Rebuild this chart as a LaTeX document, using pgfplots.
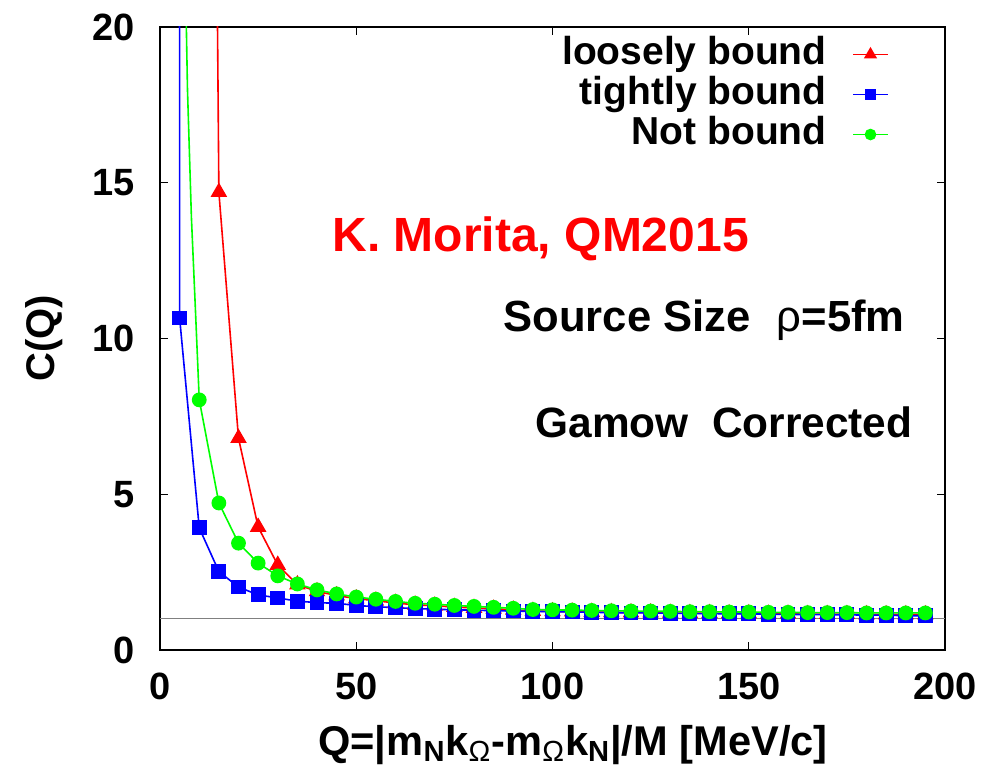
\documentclass[border=0pt]{standalone}
\usepackage{pgfplots}
\usepackage{pgfplotstable}
\pgfplotsset{compat=1.18}
\usepackage{fontspec}
\setmainfont{Liberation Sans}

\pgfplotstableread{
x y
15 14.7
20 6.8
25 3.95
30 2.73
35 2.10
40 1.88
45 1.75
50 1.65
55 1.58
60 1.51
65 1.45
70 1.42
75 1.38
80 1.35
85 1.32
90 1.29
95 1.25
100 1.24
105 1.23
110 1.22
115 1.21
120 1.20
125 1.20
130 1.19
135 1.18
140 1.18
145 1.17
150 1.17
155 1.16
160 1.16
165 1.15
170 1.15
175 1.15
180 1.14
185 1.14
190 1.14
195 1.14
}\loosely

\pgfplotstableread{
x y
5 10.66
10 3.92
15 2.52
20 2.02
25 1.77
30 1.67
35 1.57
40 1.52
45 1.50
50 1.43
55 1.39
60 1.36
65 1.33
70 1.31
75 1.29
80 1.28
85 1.26
90 1.25
95 1.24
100 1.23
105 1.22
110 1.21
115 1.20
120 1.19
125 1.19
130 1.18
135 1.17
140 1.17
145 1.16
150 1.16
155 1.15
160 1.14
165 1.14
170 1.13
175 1.13
180 1.12
185 1.12
190 1.10
195 1.10
}\tightly

\pgfplotstableread{
x y
10 8.03
15 4.72
20 3.43
25 2.79
30 2.38
35 2.12
40 1.93
45 1.80
50 1.70
55 1.63
60 1.56
65 1.50
70 1.47
75 1.43
80 1.40
85 1.37
90 1.34
95 1.30
100 1.29
105 1.28
110 1.27
115 1.26
120 1.25
125 1.25
130 1.24
135 1.23
140 1.23
145 1.22
150 1.22
155 1.21
160 1.21
165 1.20
170 1.20
175 1.20
180 1.19
185 1.19
190 1.19
195 1.19
}\notbound

\begin{document}
\begin{tikzpicture}
\useasboundingbox (-80pt,-58pt) rectangle (417pt,325pt);
\begin{axis}[
  at={(0,0)}, anchor=south west,
  scale only axis, width=392.5pt, height=311.5pt,
  xmin=0, xmax=200, ymin=0, ymax=20,
  xtick={0,50,...,200}, ytick={0,5,...,20},
  tick align=inside, major tick length=4pt,
  every tick/.style={black, line width=0.7pt},
  axis line style={black, line width=1pt},
  /pgf/number format/assume math mode=true,
  ticklabel style={font=\bfseries\fontsize{19}{19}\selectfont},
  xticklabel style={yshift=-8pt},
  yticklabel style={xshift=-9pt},
  xlabel={Q=|m\textsubscript{N}k\textsubscript{\mdseries Ω}-m\textsubscript{\mdseries Ω}k\textsubscript{N}|/M [MeV/c]},
  xlabel style={at={(axis description cs:0.526,-0.1525)}, anchor=center, font=\bfseries\fontsize{20.8}{21}\selectfont},
  ylabel={C(Q)},
  ylabel style={at={(axis description cs:-0.148,0.5)}, anchor=center, font=\bfseries\fontsize{20}{20}\selectfont},
  legend plot pos=right,
  legend style={at={(axis description cs:0.936,0.995)}, anchor=north east, draw=none, fill=none,
    font=\bfseries\fontsize{19.5}{20}\selectfont,
    nodes={inner sep=1pt, text height=14pt, text depth=4pt},
    cells={anchor=east},
    /tikz/every odd column/.append style={column sep=12pt}},
]
\addlegendimage{red, line width=0.8pt, mark=triangle*, mark size=3pt}
\addlegendentry{loosely bound}
\addlegendimage{blue, line width=0.8pt, mark=square*, mark size=2.5pt}
\addlegendentry{tightly bound}
\addlegendimage{green, line width=0.8pt, mark=*, mark size=2.5pt}
\addlegendentry{Not bound}

\addplot[gray, line width=0.6pt, forget plot] coordinates {(0,1) (200,1)};

\addplot[red, line width=0.8pt, forget plot] coordinates {(14,30) (15,14.7)};
\addplot[red, line width=0.8pt, mark=triangle*, mark size=4pt, forget plot] table {\loosely};

\addplot[blue, line width=0.8pt, forget plot] coordinates {(4.9,60) (5,10.66)};
\addplot[blue, line width=0.8pt, mark=square*, mark size=3.3pt, forget plot] table {\tightly};

\addplot[green, line width=0.8pt, forget plot] coordinates {(6,25) (7,18) (8,13.9) (9,11.0) (10,8.03)};
\addplot[green, line width=0.8pt, mark=*, mark size=3.3pt, forget plot] table {\notbound};

\node[text=red, font=\bfseries\fontsize{24}{24}\selectfont] at (axis cs:97,13.2) {K. Morita, QM2015};
\node[anchor=east, font=\bfseries\fontsize{21.8}{22}\selectfont] at (axis cs:191.5,10.6) {Source Size\hspace{0.6em}{\mdseries ρ}=5fm};
\node[anchor=east, font=\bfseries\fontsize{21.2}{22}\selectfont] at (axis cs:193.5,7.3) {Gamow\hspace{0.55em}Corrected};
\end{axis}
\end{tikzpicture}
\end{document}
